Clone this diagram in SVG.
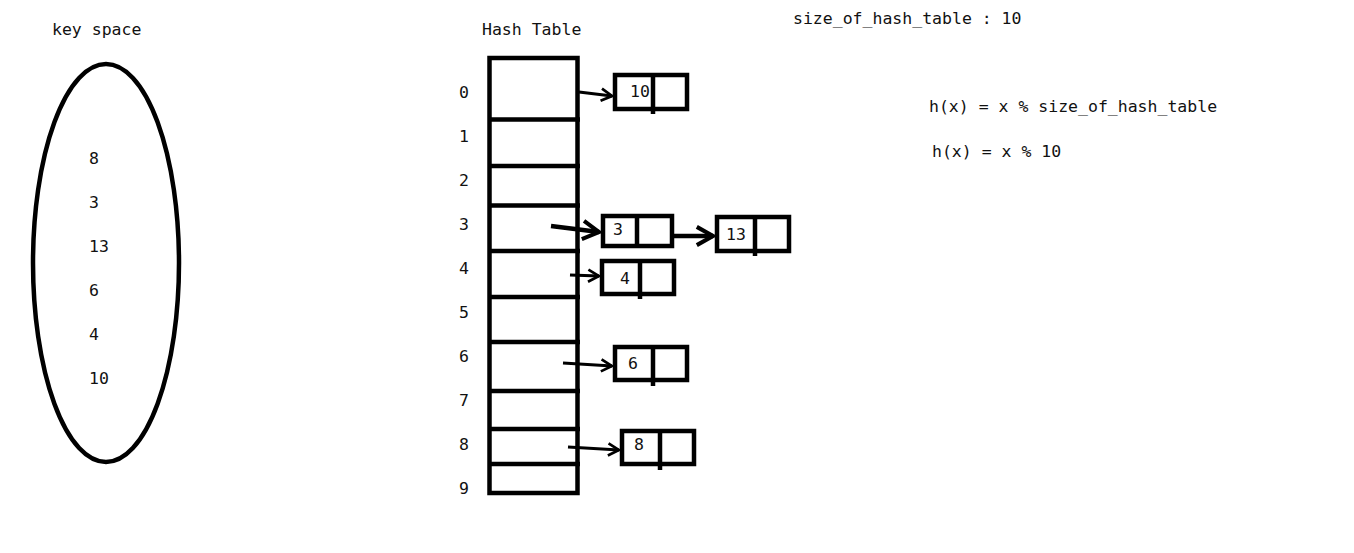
<svg xmlns="http://www.w3.org/2000/svg" width="1354" height="553" viewBox="0 0 1354 553">
<style>
text{font-family:"DejaVu Sans Mono","Liberation Mono",monospace;font-size:16.5px;fill:#111}
.b{fill:#fff;stroke:#000;stroke-width:4.5}
.l{stroke:#000;stroke-width:4.5;fill:none}
.c{stroke:#000;stroke-width:3;fill:none}
.ct{stroke:#000;stroke-width:4.5;fill:none}
</style>
<defs>
<marker id="ah" viewBox="0 0 10 10" refX="9" refY="5" markerWidth="4.5" markerHeight="5.5" markerUnits="strokeWidth" orient="auto">
<path d="M1,0.5 L9,5 L1,9.5" fill="none" stroke="#000" stroke-width="2"/>
</marker>
</defs>
<rect width="1354" height="553" fill="#fff"/>
<g id="keyspace">
<text x="52" y="35">key space</text>
<ellipse cx="106" cy="263" rx="73" ry="199" class="l"/>
<text x="89" y="164">8</text>
<text x="89" y="208">3</text>
<text x="89" y="252">13</text>
<text x="89" y="296">6</text>
<text x="89" y="340">4</text>
<text x="89" y="384">10</text>
</g>
<g id="hashtable">
<text x="482" y="35">Hash Table</text>
<rect x="489.5" y="58" width="88" height="435" class="b"/>
<path class="l" d="M489 119.5H580M489 166H580M489 205.5H580M489 251H580M489 297H580M489 342H580M489 391H580M489 429H580M489 464H580"/>
<g>
<text x="459" y="98">0</text>
<text x="459" y="142">1</text>
<text x="459" y="186">2</text>
<text x="459" y="230">3</text>
<text x="459" y="274">4</text>
<text x="459" y="318">5</text>
<text x="459" y="362">6</text>
<text x="459" y="406">7</text>
<text x="459" y="450">8</text>
<text x="459" y="494">9</text>
</g>
</g>
<g id="n10">
<rect x="615" y="75" width="72" height="34" class="b"/>
<path class="l" d="M653 75V114"/>
<text x="630" y="97">10</text>
</g>
<g id="n3">
<rect x="603" y="216" width="69" height="30" class="b"/>
<path class="l" d="M637 216V246"/>
<text x="613" y="235">3</text>
</g>
<g id="n13">
<rect x="717" y="217" width="72" height="34" class="b"/>
<path class="l" d="M755 217V256"/>
<text x="726" y="240">13</text>
</g>
<g id="n4">
<rect x="602" y="261" width="72" height="33" class="b"/>
<path class="l" d="M640 261V299"/>
<text x="620" y="284">4</text>
</g>
<g id="n6">
<rect x="615" y="347" width="72" height="33" class="b"/>
<path class="l" d="M653 347V386"/>
<text x="628" y="369">6</text>
</g>
<g id="n8">
<rect x="622" y="431" width="72" height="33" class="b"/>
<path class="l" d="M660 431V470"/>
<text x="634" y="450">8</text>
</g>
<g id="connectors">
<path class="c" d="M579 92L612 96" marker-end="url(#ah)"/>
<path class="ct" d="M551 226L599 232" marker-end="url(#ah)"/>
<path class="ct" d="M674 236L713 236" marker-end="url(#ah)"/>
<path class="c" d="M570 275L599 276" marker-end="url(#ah)"/>
<path class="c" d="M563 363L612 366" marker-end="url(#ah)"/>
<path class="c" d="M568 447L619 450" marker-end="url(#ah)"/>
</g>
<g id="notes">
<text x="793" y="24">size_of_hash_table : 10</text>
<text x="929" y="112">h(x) = x % size_of_hash_table</text>
<text x="932" y="157">h(x) = x % 10</text>
</g>
</svg>
